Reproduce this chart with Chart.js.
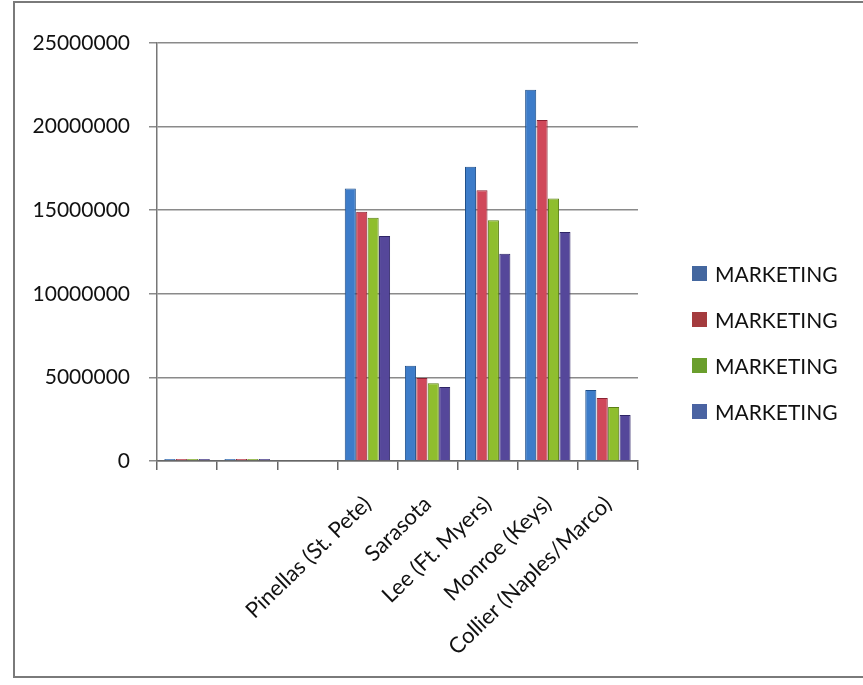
<!DOCTYPE html>
<html>
<head>
<meta charset="utf-8">
<script src="https://cdn.jsdelivr.net/npm/chart.js@4"></script>
<style>
  html, body { margin: 0; padding: 0; background: #fff; }
  #wrap { position: relative; width: 863px; height: 685px; overflow: hidden; }
  #frame { position: absolute; left: 13px; top: 1px; width: 900px; height: 677px; border: 2px solid #7a7a7a; box-sizing: border-box; }
  #chart { position: absolute; left: 0; top: 0; }
  #legend { position: absolute; left: 692px; top: 261px; font-family: Lato, "Open Sans", sans-serif; font-size: 21px; color: #111; }
  .leg-item { height: 46px; display: flex; align-items: flex-start; }
  .leg-box { width: 15px; height: 15px; margin: 5px 8px 0 0; }
</style>
</head>
<body>
<div id="wrap">
  <div id="frame"></div>
  <canvas id="chart" width="863" height="685"></canvas>
  <div id="legend"></div>
</div>
<script>
// ── Data ──────────────────────────────────────────────
const categories = ['', '', '', 'Pinellas (St. Pete)', 'Sarasota', 'Lee (Ft. Myers)', 'Monroe (Keys)', 'Collier (Naples/Marco)'];
const seriesNames = ['MARKETING', 'MARKETING', 'MARKETING', 'MARKETING'];
const series1 = [120000, 120000, 0, 16300000, 5700000, 17600000, 22200000, 4250000];
const series2 = [120000, 120000, 0, 14900000, 4970000, 16200000, 20400000, 3770000];
const series3 = [120000, 120000, 0, 14550000, 4650000, 14400000, 15700000, 3230000];
const series4 = [120000, 120000, 0, 13450000, 4420000, 12400000, 13700000, 2750000];
const yTicks = [0, 5000000, 10000000, 15000000, 20000000, 25000000];

const barFill   = ['#3d7cc9', '#d0485a', '#8fbe2e', '#55479a'];
const barEdge   = ['#1f4f8a', '#8a2232', '#5a7f14', '#2e2566'];
const legendFill = ['#44679f', '#a43b3e', '#6a9e2c', '#4a63a2'];

const FONT = 'Lato, "Open Sans", sans-serif';

const allSeries = [series1, series2, series3, series4];
const datasets = allSeries.map((vals, i) => ({
  label: seriesNames[i],
  data: vals,
  backgroundColor: barFill[i],
  borderColor: barEdge[i],
  borderWidth: 1,
  categoryPercentage: 0.76,
  barPercentage: 0.97,
}));

// ── Legend (right side) ───────────────────────────────
document.getElementById('legend').innerHTML = seriesNames.map((n, i) =>
  `<div class="leg-item"><div class="leg-box" style="background:${legendFill[i]}"></div>${n}</div>`
).join('');

new Chart(document.getElementById('chart'), {
  type: 'bar',
  data: { labels: categories, datasets },
  options: {
    responsive: false,
    animation: false,
    layout: { padding: { left: 0, right: 225, top: 43, bottom: 0 } },
    plugins: { legend: { display: false }, tooltip: { enabled: false } },
    scales: {
      x: {
        grid: { display: true, drawOnChartArea: false, drawTicks: true, tickLength: 9, color: '#666', lineWidth: 1.5 },
        border: { display: true, color: '#666', width: 1.5 },
        ticks: {
          color: '#111', font: { family: FONT, size: 22 },
          minRotation: 44, maxRotation: 44, padding: 21, autoSkip: false,
        },
        afterFit: scale => { scale.height = 224; },
      },
      y: {
        min: 0, max: 25000000,
        afterBuildTicks: scale => { scale.ticks = yTicks.map(v => ({ value: v })); },
        grid: { color: '#8a8a8a', lineWidth: 1.5, tickLength: 8 },
        border: { display: true, color: '#777', width: 1.5 },
        ticks: { color: '#111', font: { family: FONT, size: 21 }, padding: 19, callback: v => String(v) },
        afterFit: scale => { scale.width = 157; },
      },
    },
  },
});
</script>
</body>
</html>
